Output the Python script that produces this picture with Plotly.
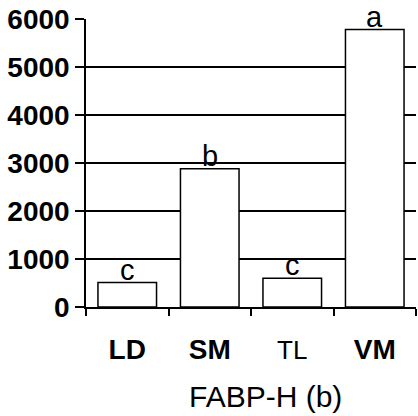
import plotly.graph_objects as go

# Data
categories = ["LD", "SM", "TL", "VM"]
tick_labels = ["LD", "SM", "<span style='font-weight:normal;font-size:26px'>TL</span>", "VM"]
values = [510, 2880, 600, 5780]
letters = ["c", "b", "c", "a"]

FONT = "Liberation Sans, Arial, sans-serif"

fig = go.Figure()

fig.add_trace(go.Bar(
    x=categories,
    y=values,
    width=0.71,
    marker={"color": "white", "line": {"color": "black", "width": 1.5}},
    showlegend=False,
))

# significance letters above each bar
for cat, val, letter in zip(categories, values, letters):
    fig.add_annotation(
        x=cat, y=val, text=letter, showarrow=False,
        yanchor="bottom", yshift=-5,
        font={"family": FONT, "size": 29, "color": "black"},
    )

# axis title, sits a little right of centre in the original
fig.add_annotation(
    xref="paper", yref="paper", x=0.545, y=-0.31,
    text="FABP-H (b)", showarrow=False, yanchor="middle",
    font={"family": FONT, "size": 30, "color": "black"},
)

fig.update_layout(
    width=418,
    height=416,
    margin={"l": 86, "r": 2, "t": 19, "b": 109},
    paper_bgcolor="white",
    plot_bgcolor="white",
    font={"family": FONT, "color": "black"},
)

fig.update_xaxes(
    automargin=False,
    tickvals=categories,
    ticktext=tick_labels,
    tickfont={"family": FONT, "size": 28, "color": "black", "weight": "bold"},
    ticklabelstandoff=17,
    tickson="boundaries",
    ticks="outside",
    ticklen=7,
    tickwidth=1.5,
    tickcolor="black",
    showline=True,
    linecolor="black",
    linewidth=1.5,
    showgrid=False,
    range=[-0.5, 3.5],
)

fig.update_yaxes(
    automargin=False,
    range=[0, 6000],
    tickvals=[0, 1000, 2000, 3000, 4000, 5000, 6000],
    tickfont={"family": FONT, "size": 28, "color": "black", "weight": "bold"},
    ticks="outside",
    ticklen=9,
    tickwidth=2,
    tickcolor="black",
    ticklabelstandoff=0,
    showline=True,
    linecolor="black",
    linewidth=1.5,
    showgrid=True,
    gridcolor="black",
    gridwidth=2,
    zeroline=False,
)

# drop the browser's default body margin so the figure sits at the corner
fig.write_html(
    "out.html",
    config={"displayModeBar": False},
    post_script="document.body.style.margin = '0';",
)
